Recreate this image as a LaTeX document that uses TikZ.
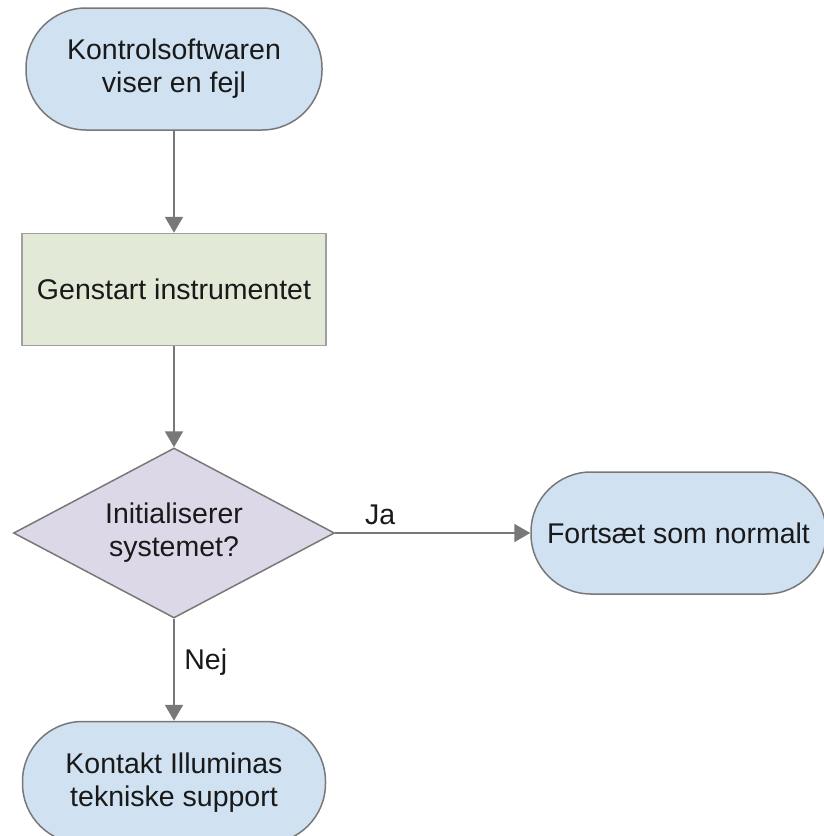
\documentclass[tikz,border=0pt]{standalone}
\usepackage{fontspec}
\setmainfont{Liberation Sans}
\usetikzlibrary{positioning,shapes.geometric,arrows.meta}

\definecolor{termblue}{RGB}{208,225,241}
\definecolor{procgreen}{RGB}{227,233,215}
\definecolor{decpurple}{RGB}{221,216,232}
\definecolor{linegray}{RGB}{120,120,120}
\definecolor{txtblack}{RGB}{25,25,25}

\begin{document}
\begin{tikzpicture}[x=1pt,y=-1pt,->,>={Triangle[length=16pt,width=18pt]},
    font=\fontsize{28.5}{33}\selectfont, text=txtblack,
    term/.style={rectangle, rounded corners=60pt, draw=linegray, line width=1.5pt,
        fill=termblue, minimum height=122pt, align=center},
    proc/.style={rectangle, draw=linegray!70, line width=1.5pt, fill=procgreen,
        minimum width=304pt, minimum height=112pt},
    dec/.style={diamond, aspect=1.9, draw=linegray, line width=1.5pt, fill=decpurple,
        minimum width=321pt, minimum height=170pt, inner sep=0pt, align=center},
    flow/.style={draw=linegray, line width=2pt}]

    \useasboundingbox (0,0) rectangle (824,836);

    % 节点
    \node[term, minimum width=296pt] (A) at (174,69) {Kontrolsoftwaren\\viser en fejl};
    \node[proc] (B) [below=102pt of A] {Genstart instrumentet};
    \node[dec]  (C) [below=101pt of B] {Initialiserer\\systemet?};
    \node[term, minimum width=295pt] (D) [right=195pt of C] {Fortsæt som normalt};
    \node[term, minimum width=303pt] (E) [below=102pt of C] {Kontakt Illuminas\\tekniske support};

    % 箭头
    \draw[flow] (A) -- (B);
    \draw[flow] (B) -- (C);
    \draw[flow] (C) -- node[pos=0.23, above=4pt] {Ja} (D);
    \draw[flow] (C) -- node[pos=0.43, right=6pt] {Nej} (E);

\end{tikzpicture}
\end{document}
